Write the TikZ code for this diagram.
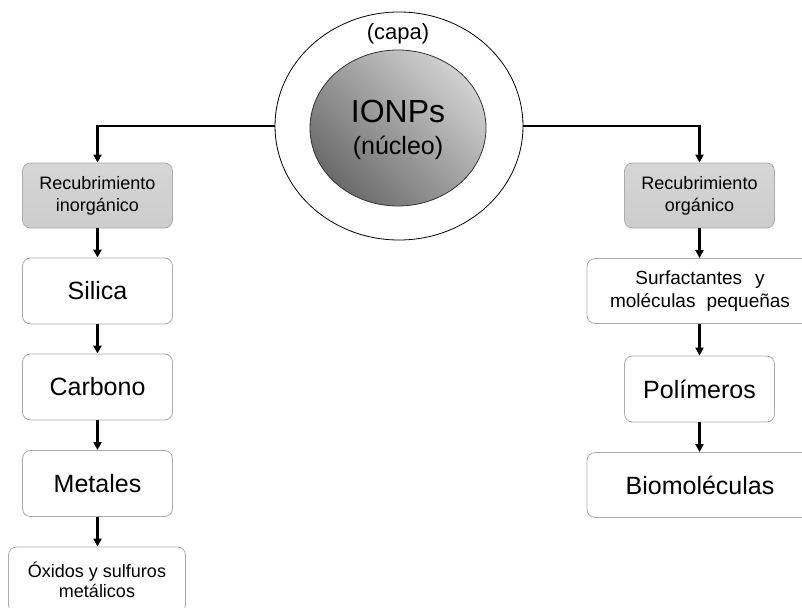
\documentclass[tikz,border=0pt]{standalone}
\usepackage{fontspec}
\setmainfont{Liberation Sans}
\usetikzlibrary{arrows.meta,shapes.geometric}
\definecolor{boxline}{HTML}{ABABAB}
\definecolor{grayfill}{HTML}{CCCCCC}
\tikzset{
  base/.style={draw=boxline, line width=0.8pt, rounded corners=8pt, align=center, inner sep=0pt},
  graybox/.style={base, top color=grayfill!80, bottom color=grayfill, minimum width=150pt, minimum height=65pt, font=\fontsize{18}{22}\selectfont},
  whitebox/.style={base, fill=white, minimum width=150pt, minimum height=66pt, font=\fontsize{25}{30}\selectfont},
  widebox/.style={base, fill=white, minimum width=177pt, minimum height=66pt, font=\fontsize{18}{20}\selectfont},
  wider/.style={base, fill=white, minimum width=226pt, minimum height=65pt},
  conn/.style={line width=2.2pt, -{Triangle[length=8pt,width=8pt]}},
}
\begin{document}
\begin{tikzpicture}[x=1pt,y=-1pt]
\useasboundingbox (0,0) rectangle (802,607);
\clip (0,0) rectangle (802,607);
% shell and core
\node (capa) [draw, line width=0.8pt, ellipse, minimum width=248pt, minimum height=228pt, inner sep=0pt] at (399,126) {};
\shade[left color=black!18, right color=black!58, shading angle=-45] (398,128) ellipse [x radius=88pt, y radius=78pt];
\node (core) [draw=black!80, line width=0.8pt, ellipse, minimum width=176pt, minimum height=156pt, inner sep=0pt] at (398,128) {};
\node (capatxt) at (398,34) {\fontsize{22}{26}\selectfont (capa)};
\node (ionps) at (398,111) {\fontsize{32}{36}\selectfont IONPs};
\node (nucleo) at (398,148) {\fontsize{25}{28}\selectfont (núcleo)};
% left column
\node (inorg) [graybox] at (97.5,195.5) {Recubrimiento\\inorgánico};
\node (silica) [whitebox] at (97.5,291) {Silica};
\node (carbono) [whitebox] at (97.5,387) {Carbono};
\node (metales) [whitebox] at (97.5,483.5) {Metales};
\node (oxidos) [widebox] at (97,580) {Óxidos y sulfuros\\metálicos};
% right column
\node (org) [graybox] at (699.5,195.5) {Recubrimiento\\orgánico};
\node (surf) [wider, font=\fontsize{19}{23}\selectfont] at (700,291) {Surfactantes\hspace{0.4em} y\\moléculas\hspace{0.3em} pequeñas};
\node (poli) [whitebox] at (699.5,389) {Polímeros};
\node (bio) [wider, font=\fontsize{25}{30}\selectfont] at (700,485) {Biomoléculas};
% connectors
\draw[conn] (capa.west) -| (inorg.north);
\draw[conn] (capa.east) -| (org.north);
\draw[conn] (inorg.south) -- (silica.north);
\draw[conn] (silica.south) -- (carbono.north);
\draw[conn] (carbono.south) -- (metales.north);
\draw[conn] (metales.south) -- (metales.south |- oxidos.north);
\draw[conn] (org.south) -- (org.south |- surf.north);
\draw[conn] (org.south |- surf.south) -- (poli.north);
\draw[conn] (poli.south) -- (poli.south |- bio.north);
\end{tikzpicture}
\end{document}
